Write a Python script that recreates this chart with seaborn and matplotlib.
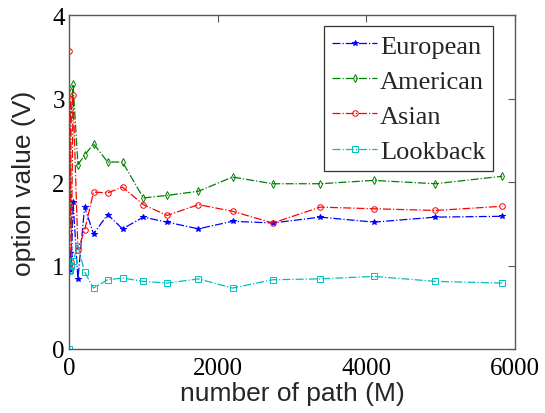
import matplotlib
matplotlib.use("Agg")
import matplotlib.pyplot as plt
import seaborn as sns

# number of paths M
paths = [1, 5, 15, 30, 55, 120, 210, 330, 520, 720, 1000, 1320, 1740,
         2200, 2740, 3380, 4100, 4930, 5830]

european = [1.10, 1.00, 1.15, 0.95, 1.76, 0.84, 1.70, 1.38, 1.61, 1.44, 1.58,
            1.52, 1.44, 1.53, 1.51, 1.58, 1.52, 1.58, 1.59]
american = [1.04, 3.13, 1.50, 2.80, 3.17, 2.21, 2.32, 2.46, 2.24, 2.24, 1.81,
            1.84, 1.89, 2.06, 1.98, 1.98, 2.02, 1.98, 2.07]
asian = [3.57, 1.00, 3.00, 1.04, 3.04, 1.19, 1.42, 1.88, 1.87, 1.94, 1.73,
         1.60, 1.73, 1.65, 1.51, 1.70, 1.68, 1.66, 1.71]
lookback = [0.00, 0.93, 0.95, 1.00, 1.06, 1.24, 0.92, 0.73, 0.83, 0.85, 0.81,
            0.79, 0.84, 0.73, 0.83, 0.84, 0.87, 0.81, 0.79]

series = [
    ("European", european, "#0000ff", "*", "#0000ff"),
    ("American", american, "#008000", "d", "none"),
    ("Asian", asian, "#ff0000", "o", "none"),
    ("Lookback", lookback, "#00bfbf", "s", "none"),
]

sns.set_theme(style="white")
plt.rcParams["font.family"] = ["Liberation Serif", "DejaVu Serif"]

fig = plt.figure(figsize=(5.45, 4.14), dpi=100)
ax = fig.add_axes([0.1266, 0.1546, 0.8184, 0.8064])

for name, vals, col, mk, face in series:
    sns.lineplot(x=paths, y=vals, ax=ax, color=col, marker=mk,
                 markersize=4, markerfacecolor=face, markeredgecolor=col,
                 markeredgewidth=0.7, linewidth=0.9, linestyle="-.",
                 label=name, sort=False)

ax.set_xlim(0, 6000)
ax.set_ylim(0, 4)
ax.set_xticks([0, 2000, 4000, 6000])
ax.set_yticks([0, 1, 2, 3, 4])
ax.tick_params(direction="in", length=5, width=0.8, color="0.35",
               labelsize=18, top=True, right=True, labelcolor="black")
ax.tick_params(axis="x", pad=6)
ax.tick_params(axis="y", pad=3)

for sp in ax.spines.values():
    sp.set_color("0.35")
    sp.set_linewidth(1.0)

ax.set_xlabel("number of path (M)", family="Liberation Sans", fontsize=19,
              labelpad=1)
ax.set_ylabel("option value (V)", family="Liberation Sans", fontsize=19,
              labelpad=12)

leg = ax.legend(loc="upper right", bbox_to_anchor=(0.951, 0.967),
                borderaxespad=0, fontsize=19, handlelength=1.7,
                handletextpad=0.1, labelspacing=0.44, borderpad=0.3,
                fancybox=False, frameon=True)
leg.get_frame().set_edgecolor("black")
leg.get_frame().set_linewidth(0.9)

plt.savefig("out.png", dpi=100)
